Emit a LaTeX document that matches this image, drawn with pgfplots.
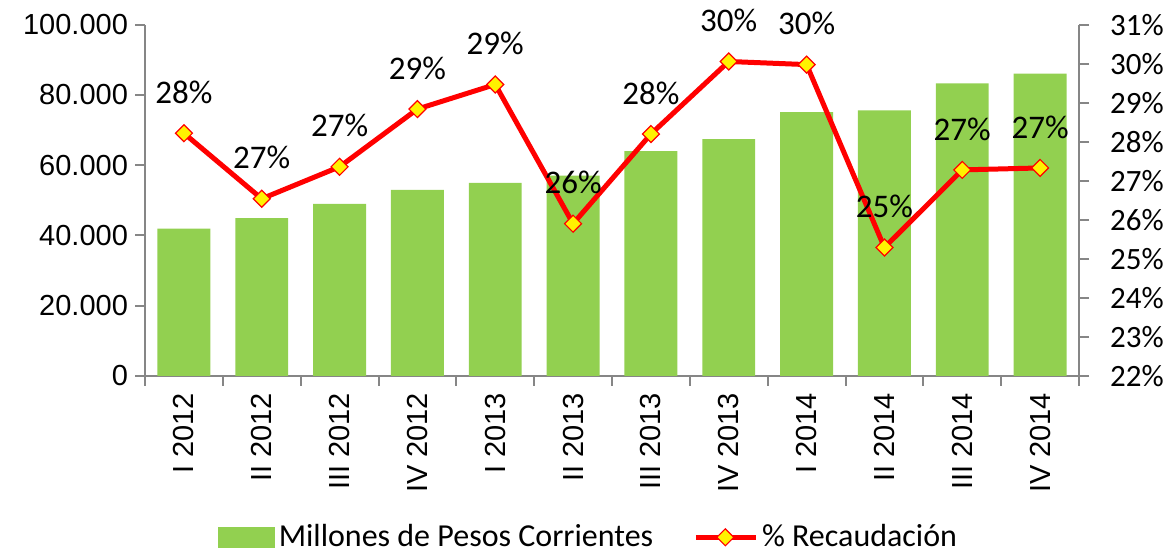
\documentclass[border=0pt]{standalone}
\usepackage{fontspec}
\setmainfont{Carlito}
\newfontfamily\arialfont{Liberation Sans}
\usepackage{pgfplots}
\usepackage{pgfplotstable}
\pgfplotsset{compat=1.18}

\definecolor{bargreen}{HTML}{92D050}
\definecolor{axisgrey}{HTML}{868686}

% quarterly revenue (millions of pesos)
\pgfplotstableread{
x val
0 41900
1 44900
2 49000
3 53000
4 55000
5 57000
6 64000
7 67400
8 75100
9 75600
10 83300
11 86100
}\bars

% collection share (%), with rounded label
\pgfplotstableread{
x pct lbl
0 28.22 28
1 26.54 27
2 27.36 27
3 28.84 29
4 29.47 29
5 25.90 26
6 28.20 28
7 30.06 30
8 29.98 30
9 25.29 25
10 27.28 27
11 27.33 27
}\pct

\pgfplotsset{
  common/.style={
    scale only axis, width=467pt, height=175.5pt,
    xmin=-0.5, xmax=11.5,
    axis line style={axisgrey, line width=1pt, -},
    tick style={axisgrey, line width=1pt},
    tick align=outside,
    major tick length=5pt, minor tick length=5pt,
  }
}

\begin{document}
\begin{tikzpicture}[font=\fontsize{15}{18}\selectfont]
\begin{axis}[
  common,
  ymin=0, ymax=100000,
  scaled y ticks=false,
  axis x line*=bottom, axis y line*=left,
  xtick={0,...,11},
  xticklabels={I 2012,II 2012,III 2012,IV 2012,I 2013,II 2013,III 2013,IV 2013,I 2014,II 2014,III 2014,IV 2014},
  minor xtick={-0.5,0.5,...,11.5},
  major x tick style={draw=none},
  xticklabel style={rotate=90, anchor=east, font=\arialfont\fontsize{14.5}{17}\selectfont},
  yticklabel style={font=\arialfont\fontsize{14.5}{17}\selectfont},
  ytick={0,20000,40000,60000,80000,100000},
  yticklabels={0,20.000,40.000,60.000,80.000,100.000},
]
\addplot[ybar, bar width=0.68, fill=bargreen, draw=none] table[x=x,y=val]{\bars};
\end{axis}

\begin{axis}[
  common,
  ymin=22, ymax=31,
  axis x line=none, axis y line*=right,
  ytick={22,...,31},
  yticklabels={22\%,23\%,24\%,25\%,26\%,27\%,28\%,29\%,30\%,31\%},
  yticklabel style={xshift=7pt, font=\fontsize{15.5}{18}\selectfont},
  legend style={at={(0.476,-0.46)}, anchor=center, draw=none, fill=none,
    legend columns=2, font=\fontsize{16}{19}\selectfont,
    /tikz/every even column/.append style={column sep=18pt}},
]
\addlegendimage{legend image code/.code={\fill[bargreen] (0cm,-0.17cm) rectangle (0.98cm,0.17cm);}}
\addlegendentry{Millones de Pesos Corrientes}
\addplot[red, line width=2.5pt, mark=square*, mark size=3pt,
  mark options={rotate=45, fill=yellow, draw=red, line width=0.6pt},
  legend image code/.code={\draw[mark repeat=2,mark phase=2] plot coordinates {(0cm,0cm)(0.52cm,0cm)(1.05cm,0cm)};},
  point meta=explicit symbolic,
  nodes near coords={\pgfplotspointmeta\%},
  every node near coord/.append style={anchor=center, yshift=20.5pt, text=black, font=\fontsize{16.5}{19}\selectfont}
] table[x=x,y=pct,meta=lbl]{\pct};
\addlegendentry{\% Recaudación}
\end{axis}
\pgfresetboundingbox
\path[use as bounding box] (-72.5pt,-89pt) rectangle (510.5pt,187.9pt);
\end{tikzpicture}
\end{document}
